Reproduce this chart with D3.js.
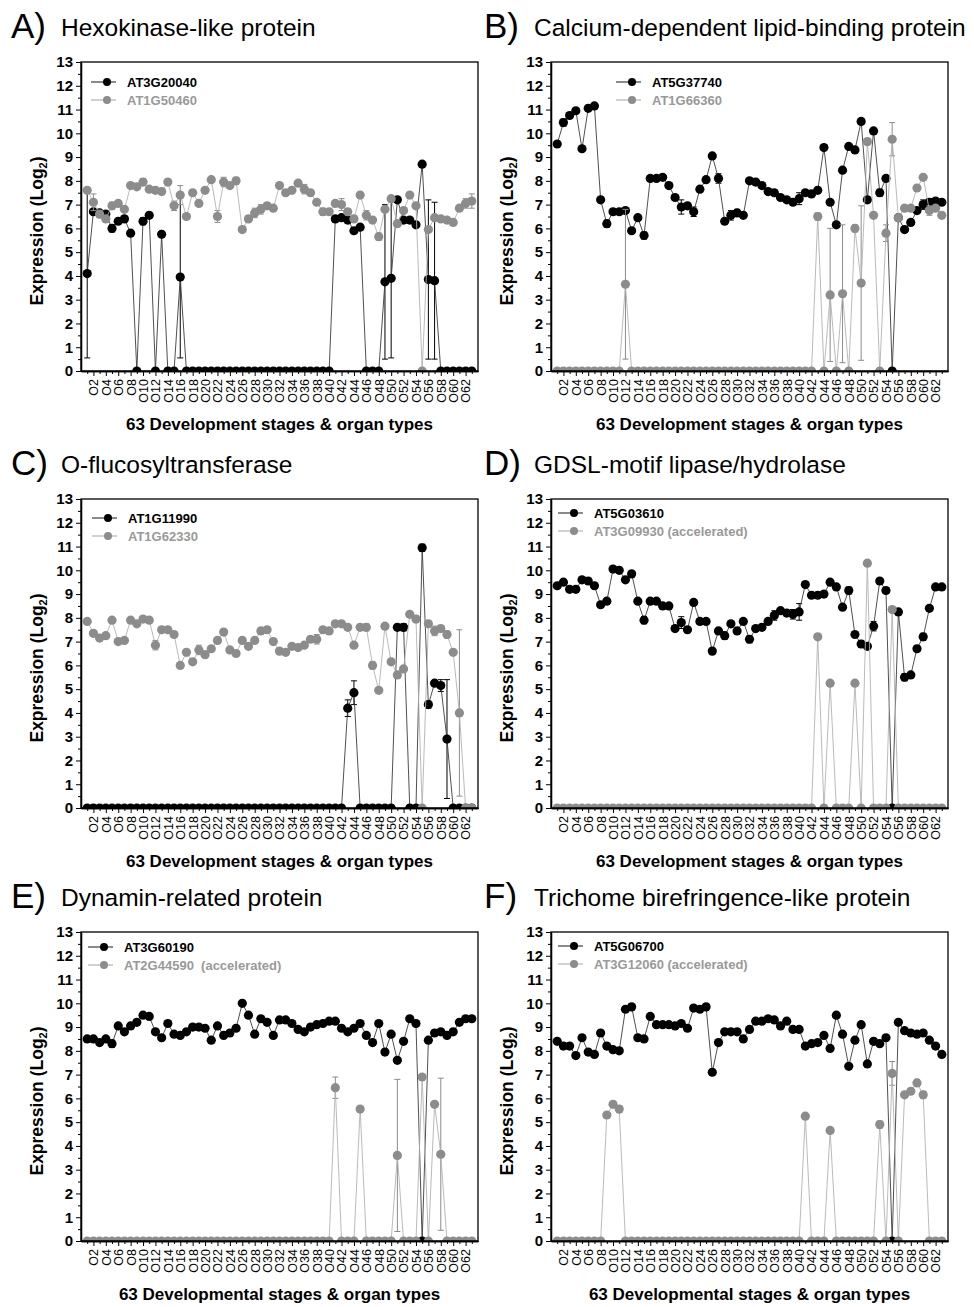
<!DOCTYPE html>
<html>
<head>
<meta charset="utf-8">
<script src="https://cdn.jsdelivr.net/npm/d3@7"></script>
<style>
body { margin: 0; background: #fff; }
svg { font-family: "Liberation Sans", Arial, Helvetica, sans-serif; }
</style>
</head>
<body>
<svg id="chart" width="974" height="1307"></svg>
<script>
// ---- data ----
var stages = d3.range(1, 64);                       // O1 .. O63
var stageTicks = stages.filter(function(d) { return d % 2 === 0; });
var yTicks = d3.range(0, 14);

// A) Hexokinase-like protein
var hexoBlack = [4.1, 6.7, 6.65, 6.6, 6.0, 6.3, 6.4, 5.8, 0, 6.3,
  6.55, 0, 5.75, 0, 0, 3.95, 0, 0, 0, 0,
  0, 0, 0, 0, 0, 0, 0, 0, 0, 0,
  0, 0, 0, 0, 0, 0, 0, 0, 0, 0,
  6.4, 6.45, 6.35, 5.9, 6.05, 0, 0, 0, 3.75, 3.9,
  7.2, 6.35, 6.35, 6.15, 8.7, 3.85, 3.8, 0, 0, 0,
  0, 0, 0];
var hexoGray = [7.6, 7.1, 6.6, 6.4, 6.95, 7.05, 6.8, 7.8, 7.75, 7.95,
  7.65, 7.6, 7.55, 7.95, 6.95, 7.4, 6.5, 7.5, 7.05, 7.6,
  8.05, 6.5, 7.95, 7.8, 8.0, 5.95, 6.4, 6.65, 6.8, 6.95,
  6.85, 7.8, 7.5, 7.6, 7.9, 7.65, 7.5, 7.1, 6.7, 6.7,
  7.05, 7.0, 6.7, 6.4, 7.4, 6.55, 6.35, 5.65, 6.8, 7.25,
  6.2, 6.75, 7.4, 6.95, 0, 5.95, 6.45, 6.4, 6.35, 6.25,
  6.85, 7.05, 7.15];
var hexoBlackErr = [[1, 3.55], [2, 0.1], [5, 0.15], [10, 0.15], [16, 3.4], [44, 0.1], [49, 3.25], [50, 3.35], [52, 0.1], [56, 3.35], [57, 3.3]];
var hexoGrayErr = [[2, 0.35], [3, 0.15], [5, 0.15], [6, 0.1], [10, 0.15], [15, 0.2], [16, 0.4], [22, 0.25], [23, 0.2], [25, 0.15],
  [28, 0.2], [29, 0.2], [30, 0.1], [36, 0.2], [39, 0.15], [42, 0.25], [46, 0.2], [47, 0.1], [48, 0.15], [62, 0.2], [63, 0.3]];

// B) Calcium-dependent lipid-binding protein
var calBlack = [9.55, 10.45, 10.75, 10.95, 9.35, 11.05, 11.15, 7.2, 6.2, 6.7,
  6.7, 6.75, 5.9, 6.45, 5.7, 8.1, 8.1, 8.15, 7.8, 7.3,
  6.9, 6.95, 6.7, 7.65, 8.05, 9.05, 8.1, 6.3, 6.55, 6.65,
  6.55, 8.0, 7.95, 7.8, 7.55, 7.5, 7.3, 7.2, 7.1, 7.25,
  7.5, 7.45, 7.6, 9.4, 7.1, 6.15, 8.45, 9.45, 9.3, 10.5,
  7.2, 10.1, 7.5, 8.1, 0, 6.45, 5.95, 6.25, 6.75, 7.0,
  7.1, 7.15, 7.1];
var calGray = [0, 0, 0, 0, 0, 0, 0, 0, 0, 0,
  0, 3.65, 0, 0, 0, 0, 0, 0, 0, 0,
  0, 0, 0, 0, 0, 0, 0, 0, 0, 0,
  0, 0, 0, 0, 0, 0, 0, 0, 0, 0,
  0, 0, 6.5, 0, 3.2, 0, 3.25, 0, 6.0, 3.7,
  9.65, 6.55, 0, 5.8, 9.75, 6.45, 6.85, 6.85, 7.7, 8.15,
  6.75, 6.85, 6.55];
var calBlackErr = [[2, 0.15], [9, 0.15], [15, 0.15], [21, 0.3], [23, 0.2], [27, 0.2], [29, 0.2], [30, 0.15], [40, 0.25], [53, 0.15], [60, 0.2], [61, 0.15]];
var calGrayErr = [[12, 3.15], [43, 0.15], [45, 2.8], [47, 2.9], [49, 0.15], [50, 3.25], [54, 0.35], [55, 0.7], [61, 0.2]];

// C) O-flucosyltransferase
var fucBlack = [0, 0, 0, 0, 0, 0, 0, 0, 0, 0,
  0, 0, 0, 0, 0, 0, 0, 0, 0, 0,
  0, 0, 0, 0, 0, 0, 0, 0, 0, 0,
  0, 0, 0, 0, 0, 0, 0, 0, 0, 0,
  0, 0, 4.2, 4.85, 0, 0, 0, 0, 0, 0,
  7.6, 7.6, 0, 0, 10.95, 4.35, 5.25, 5.15, 2.9, 0,
  0, 0, 0];
var fucGray = [7.85, 7.35, 7.15, 7.25, 7.9, 7.0, 7.05, 7.9, 7.75, 7.95,
  7.9, 6.85, 7.5, 7.5, 7.3, 6.0, 6.55, 6.15, 6.65, 6.45,
  6.7, 7.05, 7.4, 6.65, 6.5, 7.05, 6.8, 7.05, 7.45, 7.5,
  7.0, 6.6, 6.55, 6.8, 6.75, 6.85, 7.1, 7.1, 7.5, 7.45,
  7.75, 7.75, 7.6, 6.85, 7.6, 7.6, 6.0, 4.95, 7.65, 6.15,
  5.6, 5.85, 8.15, 7.95, 0, 7.75, 7.45, 7.55, 7.3, 6.55,
  4.0, 0, 0];
var fucBlackErr = [[43, 0.35], [44, 0.5], [52, 0.15], [55, 0.15], [56, 0.15], [58, 0.25], [59, 2.5]];
var fucGrayErr = [[12, 0.2], [19, 0.2], [38, 0.2], [46, 0.15], [47, 0.15], [51, 0.15], [54, 0.15], [57, 0.2], [59, 0.15], [61, 3.5]];

// D) GDSL-motif lipase/hydrolase
var gdslBlack = [9.35, 9.5, 9.2, 9.2, 9.6, 9.55, 9.35, 8.55, 8.7, 10.05,
  10.0, 9.6, 9.85, 8.7, 7.9, 8.7, 8.7, 8.5, 8.5, 7.55,
  7.8, 7.5, 8.65, 7.85, 7.85, 6.6, 7.45, 7.25, 7.75, 7.45,
  7.85, 7.1, 7.55, 7.6, 7.85, 8.1, 8.3, 8.2, 8.15, 8.25,
  9.4, 8.95, 8.95, 9.0, 9.5, 9.3, 8.45, 9.15, 7.3, 6.9,
  6.8, 7.65, 9.55, 9.15, 0, 8.25, 5.5, 5.6, 6.7, 7.2,
  8.4, 9.3, 9.3];
var gdslGray = [0, 0, 0, 0, 0, 0, 0, 0, 0, 0,
  0, 0, 0, 0, 0, 0, 0, 0, 0, 0,
  0, 0, 0, 0, 0, 0, 0, 0, 0, 0,
  0, 0, 0, 0, 0, 0, 0, 0, 0, 0,
  0, 0, 7.2, 0, 5.25, 0, 0, 0, 5.25, 0,
  10.3, 0, 0, 0, 8.35, 0, 0, 0, 0, 0,
  0, 0, 0];
var gdslBlackErr = [[15, 0.15], [21, 0.25], [28, 0.15], [32, 0.15], [36, 0.2], [39, 0.2], [40, 0.35], [48, 0.15], [50, 0.15], [52, 0.2], [57, 0.15], [60, 0.15]];
var gdslGrayErr = [];

// E) Dynamin-related protein
var dynBlack = [8.5, 8.5, 8.35, 8.5, 8.3, 9.05, 8.8, 9.05, 9.2, 9.5,
  9.45, 8.8, 8.55, 9.15, 8.7, 8.65, 8.8, 9.0, 9.0, 8.95,
  8.45, 9.05, 8.65, 8.75, 8.95, 10.0, 9.5, 8.7, 9.35, 9.2,
  8.65, 9.3, 9.3, 9.15, 8.9, 8.8, 9.0, 9.1, 9.15, 9.25,
  9.25, 8.95, 8.8, 8.95, 9.15, 8.65, 8.35, 9.15, 7.95, 8.7,
  7.6, 8.4, 9.35, 9.15, 0, 8.45, 8.75, 8.8, 8.65, 8.8,
  9.2, 9.35, 9.35];
var dynGray = [0, 0, 0, 0, 0, 0, 0, 0, 0, 0,
  0, 0, 0, 0, 0, 0, 0, 0, 0, 0,
  0, 0, 0, 0, 0, 0, 0, 0, 0, 0,
  0, 0, 0, 0, 0, 0, 0, 0, 0, 0,
  6.45, 0, 0, 0, 5.55, 0, 0, 0, 0, 0,
  3.6, 0, 0, 0, 6.9, 0, 5.75, 3.65, 0, 0,
  0, 0, 0];
var dynBlackErr = [[5, 0.15]];
var dynGrayErr = [[41, 0.45], [51, 3.2], [58, 3.2]];

// F) Trichome birefringence-like protein
var triBlack = [8.4, 8.2, 8.2, 7.8, 8.55, 7.95, 7.85, 8.75, 8.2, 8.05,
  8.0, 9.75, 9.85, 8.55, 8.5, 9.45, 9.1, 9.1, 9.1, 9.05,
  9.15, 8.95, 9.8, 9.75, 9.85, 7.1, 8.35, 8.8, 8.8, 8.8,
  8.5, 8.9, 9.25, 9.25, 9.35, 9.3, 9.05, 9.25, 8.9, 8.9,
  8.2, 8.3, 8.35, 8.65, 8.1, 9.5, 8.7, 7.35, 8.45, 9.1,
  7.45, 8.4, 8.3, 8.55, 0, 9.2, 8.85, 8.75, 8.7, 8.75,
  8.45, 8.2, 7.85];
var triGray = [0, 0, 0, 0, 0, 0, 0, 0, 5.3, 5.75,
  5.55, 0, 0, 0, 0, 0, 0, 0, 0, 0,
  0, 0, 0, 0, 0, 0, 0, 0, 0, 0,
  0, 0, 0, 0, 0, 0, 0, 0, 0, 0,
  5.25, 0, 0, 0, 4.65, 0, 0, 0, 0, 0,
  0, 0, 4.9, 0, 7.05, 0, 6.15, 6.3, 6.65, 6.15,
  0, 0, 0];
var triBlackErr = [];
var triGrayErr = [[11, 0.15], [53, 0.15], [55, 0.5], [59, 0.15], [60, 0.15]];

// ---- layout ----
var cols = [{x0: 81, x1: 478}, {x0: 551, x1: 948}];
var rows = [62, 499, 932];
var plotH = 309;
var DARK = '#000', DARK_LINE = '#3c3c3c', GRAY = '#8c8c8c', GRAY_LINE = '#b2b2b2', GRAY_TEXT = '#999';

var panels = [
  {letter: 'A)', title: 'Hexokinase-like protein', col: 0, row: 0, legX: 46, legY: 20,
   xTitle: '63 Development stages & organ types',
   series: [{name: 'AT3G20040', values: hexoBlack, err: hexoBlackErr, dark: true},
            {name: 'AT1G50460', values: hexoGray, err: hexoGrayErr, dark: false}]},
  {letter: 'B)', title: 'Calcium-dependent lipid-binding protein', col: 1, row: 0, legX: 101, legY: 20,
   xTitle: '63 Development stages & organ types',
   series: [{name: 'AT5G37740', values: calBlack, err: calBlackErr, dark: true},
            {name: 'AT1G66360', values: calGray, err: calGrayErr, dark: false}]},
  {letter: 'C)', title: 'O-flucosyltransferase', col: 0, row: 1, legX: 47, legY: 19,
   xTitle: '63 Development stages & organ types',
   series: [{name: 'AT1G11990', values: fucBlack, err: fucBlackErr, dark: true},
            {name: 'AT1G62330', values: fucGray, err: fucGrayErr, dark: false}]},
  {letter: 'D)', title: 'GDSL-motif lipase/hydrolase', col: 1, row: 1, legX: 43, legY: 14,
   xTitle: '63 Development stages & organ types',
   series: [{name: 'AT5G03610', values: gdslBlack, err: gdslBlackErr, dark: true},
            {name: 'AT3G09930', extra: ' (accelerated)', values: gdslGray, err: gdslGrayErr, dark: false}]},
  {letter: 'E)', title: 'Dynamin-related protein', col: 0, row: 2, legX: 43, legY: 15,
   xTitle: '63 Developmental stages & organ types',
   series: [{name: 'AT3G60190', values: dynBlack, err: dynBlackErr, dark: true},
            {name: 'AT2G44590', extra: '  (accelerated)', values: dynGray, err: dynGrayErr, dark: false}]},
  {letter: 'F)', title: 'Trichome birefringence-like protein', col: 1, row: 2, legX: 43, legY: 14,
   xTitle: '63 Developmental stages & organ types',
   series: [{name: 'AT5G06700', values: triBlack, err: triBlackErr, dark: true},
            {name: 'AT3G12060', extra: ' (accelerated)', values: triGray, err: triGrayErr, dark: false}]}
];

var svg = d3.select('#chart');
var defs = svg.append('defs');

panels.forEach(function(p, pi) {
  var x0 = cols[p.col].x0, x1 = cols[p.col].x1;
  var top = rows[p.row], bottom = top + plotH;
  var x = d3.scaleLinear().domain([0, 64]).range([x0, x1]);
  var y = d3.scaleLinear().domain([0, 13]).range([bottom, top]);
  var g = svg.append('g');

  // panel heading
  var lx = p.col === 0 ? 11 : 484;
  g.append('text').attr('x', lx).attr('y', top - 24)
    .style('font-size', '35px').text(p.letter);
  g.append('text').attr('x', lx + 50).attr('y', top - 26)
    .style('font-size', '24.5px').text(p.title);

  var clipId = 'clip' + pi;
  defs.append('clipPath').attr('id', clipId)
    .append('rect').attr('x', x0).attr('y', top - 30)
    .attr('width', x1 - x0).attr('height', plotH + 30);

  var line = d3.line()
    .x(function(d, i) { return x(i + 1); })
    .y(function(d) { return y(d); });

  p.series.forEach(function(s) {
    var col = s.dark ? DARK : GRAY;
    var sg = g.append('g').attr('clip-path', 'url(#' + clipId + ')');

    // error bars
    var eb = sg.selectAll('.eb').data(s.err).enter().append('g');
    eb.append('line')
      .attr('x1', function(d) { return x(d[0]); })
      .attr('x2', function(d) { return x(d[0]); })
      .attr('y1', function(d) { return y(Math.max(0, s.values[d[0] - 1] - d[1])); })
      .attr('y2', function(d) { return y(s.values[d[0] - 1] + d[1]); })
      .attr('stroke', col).attr('stroke-width', 1);
    [-1, 1].forEach(function(sign) {
      eb.append('line')
        .attr('x1', function(d) { return x(d[0]) - 3; })
        .attr('x2', function(d) { return x(d[0]) + 3; })
        .attr('y1', function(d) { return y(s.values[d[0] - 1] + sign * d[1]); })
        .attr('y2', function(d) { return y(s.values[d[0] - 1] + sign * d[1]); })
        .attr('stroke', col).attr('stroke-width', 1);
    });

    sg.append('path').datum(s.values)
      .attr('d', line)
      .attr('fill', 'none')
      .attr('stroke', s.dark ? DARK_LINE : GRAY_LINE)
      .attr('stroke-width', 0.9);

    sg.selectAll('circle').data(s.values).enter().append('circle')
      .attr('cx', function(d, i) { return x(i + 1); })
      .attr('cy', function(d) { return y(d); })
      .attr('r', 4.6)
      .attr('fill', col);
  });

  // frame
  g.append('rect').attr('x', x0).attr('y', top)
    .attr('width', x1 - x0).attr('height', plotH)
    .attr('fill', 'none').attr('stroke', '#000').attr('stroke-width', 1.3);

  // y axis
  var ya = g.append('g').attr('transform', 'translate(' + x0 + ',0)')
    .call(d3.axisLeft(y).tickValues(yTicks).tickSize(5).tickSizeOuter(0).tickPadding(3).tickFormat(d3.format('d')));
  g.append('g').attr('transform', 'translate(' + x0 + ',0)')
    .call(d3.axisLeft(y).tickValues(d3.range(0.5, 13, 1)).tickSize(3).tickSizeOuter(0).tickFormat(''));
  ya.selectAll('text').style('font-size', '15px').style('font-weight', 'bold').attr('fill', '#000');

  // x axis
  var xa = g.append('g').attr('transform', 'translate(0,' + bottom + ')')
    .call(d3.axisBottom(x).tickValues(stageTicks).tickSize(5).tickSizeOuter(0)
      .tickFormat(function(d) { return 'O' + d; }));
  g.append('g').attr('transform', 'translate(0,' + bottom + ')')
    .call(d3.axisBottom(x).tickValues(stages.filter(function(d) { return d % 2 === 1; }))
      .tickSize(3).tickSizeOuter(0).tickFormat(''));
  xa.selectAll('text')
    .attr('transform', 'rotate(-90)')
    .attr('x', -8).attr('y', 0).attr('dy', '0.35em')
    .style('text-anchor', 'end')
    .style('font-size', '12.5px')
    .attr('fill', '#000');

  g.selectAll('.domain, .tick line').attr('stroke', '#000');
  g.selectAll('.domain').attr('stroke-width', 1.3);

  // axis titles
  g.append('text')
    .attr('x', (x0 + x1) / 2).attr('y', bottom + 59)
    .attr('text-anchor', 'middle')
    .style('font-size', '17px').style('font-weight', 'bold')
    .text(p.xTitle);

  var yt = g.append('text')
    .attr('transform', 'translate(' + (x0 - 38) + ',' + (top + 169) + ') rotate(-90)')
    .attr('text-anchor', 'middle')
    .style('font-size', '17.5px').style('font-weight', 'bold');
  yt.append('tspan').text('Expression (Log');
  yt.append('tspan').attr('dy', 4).style('font-size', '11px').text('2');
  yt.append('tspan').attr('dy', -4).text(')');

  // legend
  p.series.forEach(function(s, si) {
    var ly = top + p.legY + si * 18;
    var tx = x0 + p.legX;
    var col = s.dark ? DARK : GRAY;
    g.append('line').attr('x1', tx - 36).attr('x2', tx - 11)
      .attr('y1', ly).attr('y2', ly)
      .attr('stroke', s.dark ? DARK_LINE : GRAY_LINE).attr('stroke-width', 1.2);
    g.append('circle').attr('cx', tx - 20).attr('cy', ly).attr('r', 4).attr('fill', col);
    var t = g.append('text').attr('x', tx).attr('y', ly + 4.5)
      .style('font-size', '13px').style('font-weight', 'bold')
      .attr('fill', s.dark ? '#000' : GRAY_TEXT)
      .attr('xml:space', 'preserve');
    t.append('tspan').text(s.name);
    if (s.extra) t.append('tspan').text(s.extra);
  });
});
</script>
</body>
</html>
